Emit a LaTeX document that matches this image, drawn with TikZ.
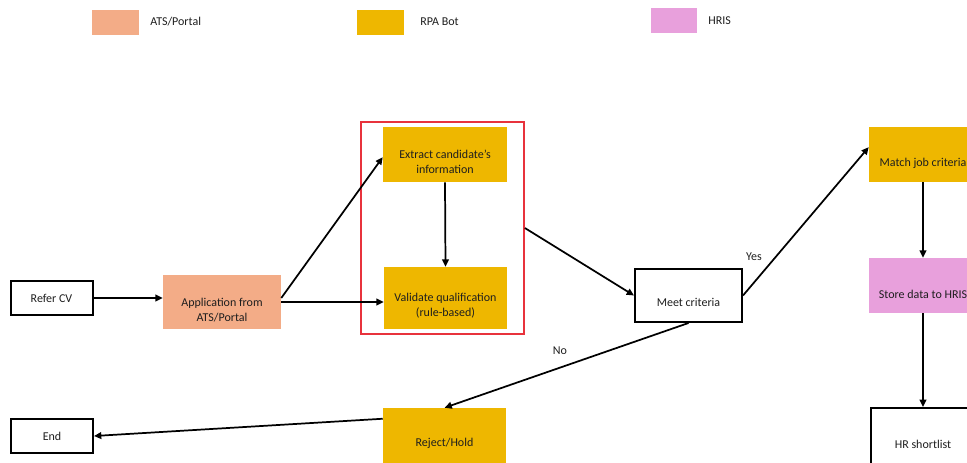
\documentclass[tikz,border=0pt]{standalone}
\usepackage{fontspec}
\setmainfont{Carlito}
\usetikzlibrary{arrows.meta,calc}
\definecolor{ats}{HTML}{F3AC87}
\definecolor{rpa}{HTML}{EEB700}
\definecolor{hris}{HTML}{E8A0DC}
\definecolor{redframe}{HTML}{E8323C}
\definecolor{txt}{HTML}{1E1E1E}
\begin{document}
\begin{tikzpicture}[x=0.75pt,y=-0.75pt, font=\fontsize{9}{11.5}\selectfont, text=txt,
  sz/.style 2 args={minimum width=#1*0.75pt, minimum height=#2*0.75pt},
  box/.style={rectangle, inner sep=0pt, align=center},
  whitebox/.style={box, draw=black, line width=1.5pt, fill=white},
  lbl/.style={inner sep=0pt, align=center},
  arr/.style={-{Triangle[length=5.5pt,width=5pt]}, line width=1.3pt, black}]
\path[use as bounding box] (0,0) rectangle (967,462);
\clip (0,0) rectangle (967,462);

% legend
\node[box, fill=ats, sz={47}{25}] (lgats) at (115.5,22.5) {};
\node[lbl, anchor=west] (lgatst) at (150,22) {ATS/Portal};
\node[box, fill=rpa, sz={47}{25}] (lgrpa) at (380.5,22.5) {};
\node[lbl, anchor=west] (lgrpat) at (420,22) {RPA Bot};
\node[box, fill=hris, sz={46}{25}] (lghris) at (674,20.5) {};
\node[lbl, anchor=west] (lghrist) at (708,21) {HRIS};

% frame
\node[box, draw=redframe, line width=1.3pt, sz={163}{212}] (redbox) at (442.5,228) {};

% nodes
\node[whitebox, sz={82}{34}] (refer) at (51.5,298) {Refer CV};
\node[box, fill=ats, sz={118}{54}, label={[lbl, yshift=-6pt]center:Application from\\ATS/Portal}] (app) at (222,302) {};
\node[box, fill=rpa, sz={124}{55}, label={[lbl, yshift=-5.5pt]center:Extract candidate’s\\information}] (extract) at (445,154.5) {};
\node[box, fill=rpa, sz={123}{62}, label={[lbl, yshift=-5.5pt]center:Validate qualification\\(rule-based)}] (validate) at (445.5,298) {};
\node[whitebox, sz={107}{53}, label={[lbl, yshift=-5.5pt]center:Meet criteria}] (meet) at (688.5,295.5) {};
\node[box, fill=rpa, sz={108}{55}, label={[lbl, yshift=-6.5pt]center:Match job criteria}] (match) at (923,154.5) {};
\node[box, fill=hris, sz={108}{55}, label={[lbl, yshift=-6.5pt]center:Store data to HRIS}] (store) at (923,285.5) {};
\node[whitebox, sz={104}{72}] (hr) at (923,444) {HR shortlist};
\node[box, fill=rpa, sz={123}{62}, label={[lbl, yshift=-3pt]center:Reject/Hold}] (reject) at (444.5,439) {};
\node[whitebox, sz={82}{34}] (end) at (52,436) {End};

% labels
\node[lbl] (yes) at (754,257) {Yes};
\node[lbl] (no) at (560,351) {No};

% connectors
\draw[arr] (refer.east) -- (refer.east -| app.west);
\draw[arr] ([yshift=3pt]app.east) -- ([yshift=-2pt]extract.west);
\draw[arr] (app.east) -- (app.east -| validate.west);
\draw[arr] (extract.south) -- (validate.north);
\draw[arr] (redbox.east) -- (meet.west);
\draw[arr] (meet.east) -- ([yshift=5.5pt]match.west);
\draw[arr] (meet.south) -- (reject.north);
\draw[arr] ([yshift=-8.25pt]reject.north west) -- (end.east);
\draw[arr] (match.south) -- (store.north);
\draw[arr] (store.south) -- (hr.north);
\end{tikzpicture}
\end{document}
